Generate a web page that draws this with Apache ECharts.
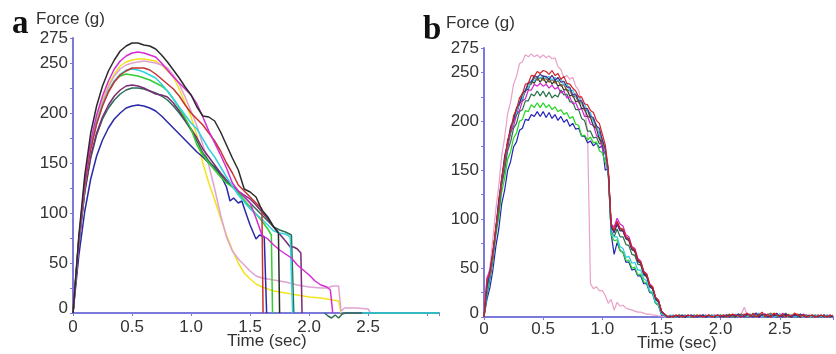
<!DOCTYPE html>
<html>
<head>
<meta charset="utf-8">
<script src="https://cdn.jsdelivr.net/npm/echarts@6/dist/echarts.min.js"></script>
<style>html,body{margin:0;padding:0;background:#fff}#c{width:836px;height:354px}</style>
</head>
<body>
<div id="c"></div>
<script>
// ---------- Panel a: [time (s), force (g)] ----------
const aBlack = [[0,0],[0.05,78],[0.1,138],[0.15,180],[0.2,207],[0.25,227],[0.3,242],[0.35,253],[0.4,262],[0.45,267],[0.5,270],[0.55,270],[0.6,268],[0.65,267],[0.7,264],[0.75,258],[0.8,251],[0.85,243],[0.9,235],[0.95,226],[1.0,218],[1.05,206],[1.1,197],[1.15,196],[1.2,192],[1.25,181],[1.3,168],[1.35,155],[1.4,143],[1.45,124],[1.5,121],[1.55,116],[1.6,103],[1.65,96],[1.7,86],[1.74,80],[1.75,0]];
const aMagenta = [[0,0],[0.05,75],[0.1,133],[0.15,172],[0.2,198],[0.25,217],[0.3,232],[0.35,244],[0.4,252],[0.45,257],[0.5,260],[0.55,261],[0.6,260],[0.65,258],[0.7,256],[0.75,250],[0.8,243],[0.85,236],[0.9,230],[0.95,224],[1.0,218],[1.05,209],[1.1,196],[1.15,182],[1.2,170],[1.25,158],[1.3,145],[1.35,130],[1.4,122],[1.45,117],[1.5,110],[1.55,95],[1.6,78],[1.65,74],[1.7,68],[1.75,63],[1.8,59],[1.85,55],[1.9,48],[1.95,43],[2.0,38],[2.05,32],[2.1,28],[2.15,26],[2.18,23],[2.2,0]];
const aYellow = [[0,0],[0.05,74],[0.1,130],[0.15,168],[0.2,194],[0.25,213],[0.3,228],[0.35,239],[0.4,247],[0.45,251],[0.5,253],[0.55,254],[0.6,254],[0.65,253],[0.7,252],[0.75,248],[0.8,242],[0.85,236],[0.9,224],[0.95,210],[1.0,196],[1.05,177],[1.1,150],[1.15,130],[1.2,113],[1.25,95],[1.3,78],[1.35,63],[1.4,50],[1.45,40],[1.5,34],[1.55,29],[1.6,26],[1.7,22],[1.8,20],[1.9,18],[2.0,16],[2.1,15],[2.2,13],[2.25,12],[2.27,0]];
const aPink = [[0,0],[0.05,72],[0.1,128],[0.15,166],[0.2,192],[0.25,211],[0.3,226],[0.35,237],[0.4,244],[0.45,248],[0.5,250],[0.55,251],[0.6,252],[0.65,251],[0.7,250],[0.75,248],[0.8,245],[0.85,238],[0.9,229],[0.95,216],[1.0,202],[1.05,187],[1.1,168],[1.15,148],[1.2,124],[1.25,98],[1.3,76],[1.35,62],[1.4,54],[1.45,48],[1.5,42],[1.55,37],[1.6,35],[1.7,33],[1.8,31],[1.9,28],[2.0,26],[2.1,25],[2.15,25],[2.2,27],[2.25,27],[2.27,2],[2.3,5],[2.4,5],[2.5,4],[2.52,0]];
const aRed = [[0,0],[0.05,74],[0.1,128],[0.15,164],[0.2,189],[0.25,207],[0.3,221],[0.35,231],[0.4,238],[0.45,242],[0.5,245],[0.55,245],[0.6,245],[0.65,243],[0.7,239],[0.75,234],[0.8,229],[0.85,224],[0.9,217],[0.95,208],[1.0,200],[1.05,194],[1.1,188],[1.15,180],[1.2,172],[1.25,162],[1.3,150],[1.35,140],[1.4,128],[1.45,122],[1.5,116],[1.55,110],[1.6,104],[1.61,0]];
const aCyan = [[0,0],[0.05,73],[0.1,128],[0.15,165],[0.2,190],[0.25,208],[0.3,222],[0.35,232],[0.4,239],[0.45,243],[0.5,244],[0.55,243],[0.6,241],[0.65,238],[0.7,235],[0.75,229],[0.8,222],[0.85,214],[0.9,206],[0.95,198],[1.0,190],[1.05,184],[1.1,174],[1.15,164],[1.2,156],[1.25,146],[1.3,136],[1.35,127],[1.4,118],[1.45,111],[1.5,104],[1.55,99],[1.6,94],[1.65,88],[1.7,82],[1.75,80],[1.8,79],[1.84,76],[1.86,0],[1.87,'-'],[2.45,0],[3.1,0]];
const aGreen = [[0,0],[0.05,74],[0.1,128],[0.15,165],[0.2,190],[0.25,208],[0.3,222],[0.35,232],[0.4,237],[0.45,239],[0.5,238],[0.55,237],[0.6,235],[0.65,233],[0.7,230],[0.75,227],[0.8,222],[0.85,214],[0.9,205],[0.95,195],[1.0,184],[1.05,168],[1.1,158],[1.15,150],[1.2,143],[1.25,136],[1.3,130],[1.35,126],[1.4,120],[1.45,113],[1.5,106],[1.55,99],[1.6,92],[1.65,84],[1.68,78],[1.69,0]];
const aPurple = [[0,0],[0.05,70],[0.1,122],[0.15,157],[0.2,180],[0.25,196],[0.3,208],[0.35,217],[0.4,223],[0.45,227],[0.5,228],[0.55,227],[0.6,225],[0.65,222],[0.7,219],[0.75,218],[0.8,216],[0.85,210],[0.9,202],[0.95,193],[1.0,184],[1.05,175],[1.1,164],[1.15,156],[1.2,148],[1.25,140],[1.3,133],[1.35,127],[1.4,122],[1.45,118],[1.5,114],[1.55,108],[1.6,101],[1.65,94],[1.7,86],[1.75,79],[1.8,72],[1.84,66],[1.87,66],[1.9,64],[1.93,60],[1.94,0]];
const aDkGreen = [[0,0],[0.05,70],[0.1,121],[0.15,155],[0.2,178],[0.25,194],[0.3,205],[0.35,213],[0.4,219],[0.45,223],[0.5,225],[0.55,225],[0.6,224],[0.65,222],[0.7,220],[0.75,217],[0.8,213],[0.85,207],[0.9,200],[0.95,192],[1.0,183],[1.05,172],[1.1,160],[1.15,152],[1.2,145],[1.25,138],[1.3,131],[1.35,126],[1.4,121],[1.45,116],[1.5,110],[1.55,104],[1.6,98],[1.65,92],[1.7,86],[1.75,83],[1.8,81],[1.85,78],[1.87,0],[1.88,'-'],[2.13,0],[2.16,-3],[2.19,-5],[2.22,-2],[2.25,-5],[2.28,-1],[2.31,0],[3.1,0]];
const aBlue = [[0,0],[0.05,58],[0.1,102],[0.15,134],[0.2,157],[0.25,173],[0.3,185],[0.35,194],[0.4,200],[0.45,205],[0.5,207],[0.55,208],[0.6,207],[0.65,205],[0.7,202],[0.75,197],[0.8,191],[0.85,185],[0.9,179],[0.95,173],[1.0,167],[1.05,161],[1.1,156],[1.15,150],[1.2,146],[1.25,138],[1.3,126],[1.33,112],[1.36,115],[1.4,110],[1.43,112],[1.47,98],[1.5,88],[1.55,74],[1.58,78],[1.62,76],[1.64,0]];

// ---------- Panel b: shared time grid (s) and force (g) per trace ----------
const tB = [0,0.025,0.05,0.075,0.1,0.125,0.15,0.175,0.2,0.225,0.25,0.275,0.3,0.325,0.35,0.375,0.4,0.425,0.45,0.475,0.5,
0.525,0.55,0.575,0.6,0.625,0.65,0.675,0.7,0.725,0.75,0.775,0.8,0.825,0.85,0.875,0.9,0.925,0.95,0.975,1,
1.025,1.05,1.075,1.1,1.125,1.15,1.175,1.2,1.225,1.25,1.275,1.3,1.325,1.35,1.375,1.4,1.425,1.45,1.475,1.5,1.525,1.55,
1.575,1.6,1.625,1.65,1.675,1.7,1.725,1.75,1.775,1.8,1.825,1.85,1.875,1.9,1.925,1.95,1.975,2,2.025,2.05,2.075,2.1,2.125,2.15,
2.175,2.2,2.225,2.25,2.275,2.3,2.325,2.35,2.375,2.4,2.425,2.45,2.475,2.5,2.525,2.55,2.575,2.6,2.625,2.65,2.675,2.7,2.725,2.75,
2.775,2.8,2.825,2.85,2.875,2.9,2.925,2.95];

const bPink = [0,30,52,80,110,134,165,184,208,220,238,246,259,261,268,266,269,266,268,265,268,
265,267,264,265,256,253,245,247,243,245,236,232,219,214,190,34,29,31,27,27,
22,14,18,7,15,11,12,9,8,7,6,5,5,4,3,3,2,2,1,1,0,0,
0,0,1,0,0,1,0,0, 1,0,0,1,0,1,0,0, 1,0,0,1,0,2,1,2, 3,10,2,1,0,1,2,1, 0,1,0,2,1,0,1,0, 0,1,0,1,0,0,1,0, 0,1,0,0,1,0,0,1];
const bBlue = [0,18,30,48,72,90,116,130,150,159,174,179,191,193,202,201,207,205,210,205,210,
204,209,203,207,201,205,199,202,195,198,192,193,185,185,178,180,175,178,173,175,
150,152,85,64,76,68,66,56,56,48,49,42,42,34,34,25,24,14,12,2,2,0,
1,0,1,0,1,0,2,0, 1,0,1,2,0,1,0,1, 2,0,1,1,0,1,2,0, 1,2,0,1,3,2,0,2, 1,0,2,1,0,3,1,0, 1,2,0,1,0,1,2,0, 1,0,1,0,2,1,0,1];
const bGreen = [0,22,38,57,83,102,128,142,161,169,183,188,200,202,211,210,217,214,219,214,219,
214,217,212,215,210,212,207,209,203,205,197,196,185,186,181,184,178,179,170,168,
158,150,84,78,79,68,66,58,58,50,51,43,44,36,35,26,24,14,12,3,2,0,
0,1,0,1,2,1,0,1, 1,2,0,1,1,0,1,2, 0,2,1,0,1,2,0,1, 3,0,2,1,2,0,3,1, 2,0,1,3,0,1,2,1, 3,0,1,0,2,1,1,0, 2,0,1,1,0,2,0,1];
const bDkGreen = [0,24,40,60,87,108,135,150,170,179,193,198,210,212,221,221,228,226,231,226,231,
225,230,224,227,225,232,227,228,220,220,212,212,203,201,190,190,183,184,177,178,
168,146,88,82,90,82,82,74,73,64,63,54,53,43,41,31,29,19,16,6,3,0,
1,0,1,2,0,1,1,0, 2,1,0,1,0,2,1,0, 1,1,0,2,1,0,2,1, 0,2,1,3,0,1,3,1, 0,3,1,2,0,2,1,4, 0,1,2,0,2,1,0,1, 0,2,1,0,1,1,0,1];
const bMagenta = [0,40,48,66,88,117,137,160,172,189,195,207,211,221,223,232,232,238,236,239,236,
238,234,237,233,235,229,231,224,225,218,219,212,213,205,205,197,196,186,183,172,
167,150,95,92,101,95,93,84,82,72,70,60,57,47,44,34,31,20,17,6,3,0,
0,1,2,0,1,1,0,2, 1,0,1,1,2,0,1,2, 0,1,1,2,0,2,1,0, 2,3,1,0,2,4,0,1, 3,2,0,1,3,0,4,1, 2,0,1,2,0,3,1,0, 1,0,2,1,1,0,2,0];
const bBlack = [0,28,43,63,91,113,141,157,178,188,202,207,219,222,232,233,241,239,245,240,245,
239,244,238,242,236,238,232,233,226,227,220,221,213,213,205,204,195,193,182,178,
167,150,92,87,95,89,88,80,78,69,67,57,55,44,42,31,29,18,15,5,2,0,
1,1,0,2,1,0,1,1, 0,1,2,1,0,1,2,0, 1,2,0,1,2,1,0,3, 1,2,0,2,3,1,0,3, 2,1,0,3,1,2,0,2, 1,0,3,1,0,2,1,0, 2,1,0,1,2,0,1,1];
const bOlive = [0,34,44,65,88,118,139,163,176,193,200,213,217,228,230,239,238,245,242,245,242,
244,240,243,239,242,236,238,231,232,225,226,219,219,211,211,203,202,192,189,177,
170,149,93,88,97,90,89,81,80,70,68,58,56,46,43,33,30,20,17,6,3,0,
0,2,1,0,1,2,1,0, 1,1,0,2,1,2,0,1, 1,0,2,1,3,0,1,2, 3,1,2,0,4,1,3,2, 0,2,4,1,0,2,1,3, 2,0,1,3,1,0,2,1, 0,1,2,0,1,1,0,2];
const bCyan = [0,26,42,62,90,113,142,158,179,189,203,208,220,223,233,234,242,241,246,244,247,
244,246,242,245,241,244,237,239,231,232,225,226,218,218,210,209,199,197,186,182,
168,148,86,82,82,72,70,61,62,55,56,48,48,39,37,27,25,15,13,3,2,0,
2,1,0,1,1,2,0,1, 2,1,0,2,1,0,2,1, 0,1,2,1,0,1,3,0, 2,1,0,3,1,2,4,0, 2,1,3,0,1,3,2,0, 1,2,0,1,2,0,1,0, 1,2,0,1,0,2,1,1];
const bPurple = [0,30,46,66,90,120,141,165,178,195,201,214,218,229,231,240,240,247,245,248,246,
246,243,247,242,245,240,241,235,235,227,228,221,221,213,213,205,204,195,193,181,
172,150,92,86,95,88,88,80,79,69,68,57,55,45,42,32,29,19,16,5,3,0,
0,1,1,0,2,0,1,2, 1,0,1,2,0,1,1,0, 2,0,1,2,0,2,1,3, 1,0,3,2,0,4,1,2, 3,0,2,1,4,0,2,3, 1,0,2,1,3,1,0,2, 1,1,0,2,0,1,1,0];
const bRed = [0,38,44,64,92,114,143,159,181,190,206,212,224,228,238,239,247,246,251,249,252,
251,248,252,247,249,243,246,239,238,234,231,225,225,218,217,211,209,201,198,187,
176,152,95,89,98,91,90,82,80,71,69,59,56,46,44,33,31,20,17,6,3,1,
1,0,2,1,0,1,2,1, 0,2,1,0,1,2,0,1, 2,1,2,0,1,3,2,1, 0,2,4,1,3,0,2,5, 1,3,0,4,2,1,3,0, 2,1,4,2,1,2,0,1, 2,0,1,2,1,0,2,1];

const yTicks = [0,50,100,150,200,250,275];
const xTicks = [0,0.5,1.0,1.5,2.0,2.5];

const AX = '#7b79d9';
const FONT = 'Liberation Sans';

function xAx(grid, max, margin) {
  return {type:'value', gridIndex:grid, min:0, max:max, interval:0.5,
    axisLine:{show:true, onZero:false, lineStyle:{color:AX, width:2}},
    axisTick:{show:true, length:3, lineStyle:{color:AX, width:1}},
    axisLabel:{fontSize:17, color:'#333', fontFamily:FONT, margin:margin,
      formatter: v => { const m = xTicks.find(t => Math.abs(t - v) < 1e-6); return m === undefined ? '' : (m === 0 ? '0' : m.toFixed(1)); }},
    splitLine:{show:false}};
}
function yAx(grid, zeroPad) {
  return {type:'value', gridIndex:grid, min:0, max:275, interval:25,
    axisLine:{show:true, onZero:false, lineStyle:{color:AX, width:2}},
    axisTick:{show:true, length:3, lineStyle:{color:AX, width:1}},
    axisLabel:{fontSize:17, color:'#333', fontFamily:FONT, margin:5,
      formatter: v => v === 0 ? '{z|0}' : (yTicks.indexOf(v) >= 0 ? String(v) : ''),
      rich:{z:{fontSize:17, color:'#333', fontFamily:FONT, padding:[0,0,zeroPad,0]}}},
    splitLine:{show:false}};
}

function lineA(data, color) {
  return {type:'line', xAxisIndex:0, yAxisIndex:0, data:data, showSymbol:false, clip:false,
    lineStyle:{color:color, width:1.5}, itemStyle:{color:color}, connectNulls:false, silent:true};
}
function lineB(vals, color) {
  return {type:'line', xAxisIndex:1, yAxisIndex:1, data:tB.map((t,i)=>[t, vals[i]]), showSymbol:false, clip:false,
    lineStyle:{color:color, width:1.2}, itemStyle:{color:color}, silent:true};
}

const chart = echarts.init(document.getElementById('c'), null, {renderer:'canvas'});
chart.setOption({
  animation:false,
  backgroundColor:'#fff',
  grid:[
    {left:73, top:38, width:366, height:275},
    {left:484, top:48, width:352, height:269}
  ],
  xAxis:[xAx(0, 3.1, 6), xAx(1, 2.95, 4)],
  yAxis:[yAx(0, 9), yAx(1, 7)],
  series:[
    lineA(aYellow,'#f2e41c'),
    lineA(aPink,'#e0a2d2'),
    lineA(aBlue,'#2a2aa8'),
    lineA(aDkGreen,'#2d6e52'),
    lineA(aPurple,'#7a2a78'),
    lineA(aGreen,'#33cc33'),
    lineA(aCyan,'#33d2e0'),
    lineA(aRed,'#c83232'),
    lineA(aMagenta,'#d42cd4'),
    lineA(aBlack,'#2b2b2b'),
    lineB(bPink,'#e8a0c8'),
    lineB(bBlue,'#2222bb'),
    lineB(bGreen,'#22d622'),
    lineB(bDkGreen,'#247048'),
    lineB(bMagenta,'#d020d0'),
    lineB(bBlack,'#333333'),
    lineB(bOlive,'#7d5c20'),
    lineB(bCyan,'#30c8e8'),
    lineB(bPurple,'#4a2a8a'),
    lineB(bRed,'#d42020')
  ],
  graphic:[
    {type:'text', left:12, top:8, style:{text:'a', font:'bold 33px "Liberation Serif"', fill:'#111'}},
    {type:'text', left:36, top:11, style:{text:'Force (g)', font:'17px "Liberation Sans"', fill:'#333'}},
    {type:'text', left:423, top:14, style:{text:'b', font:'bold 33px "Liberation Serif"', fill:'#111'}},
    {type:'text', left:446, top:15, style:{text:'Force (g)', font:'17px "Liberation Sans"', fill:'#333'}},
    {type:'text', left:227, top:333, style:{text:'Time (sec)', font:'17px "Liberation Sans"', fill:'#333'}},
    {type:'text', left:637, top:335, style:{text:'Time (sec)', font:'17px "Liberation Sans"', fill:'#333'}}
  ]
});
</script>
</body>
</html>
